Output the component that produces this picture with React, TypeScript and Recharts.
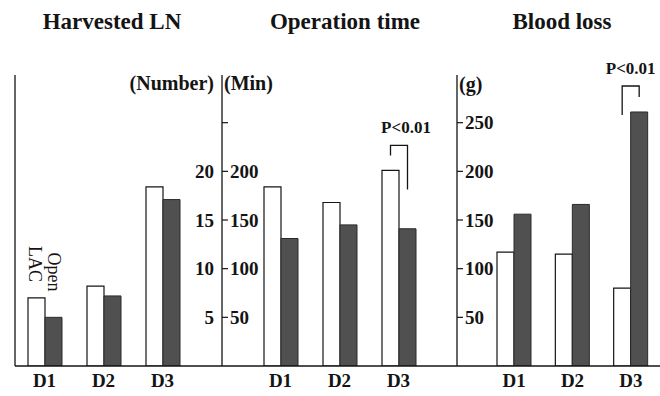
import React from 'react';
import { BarChart, Bar, XAxis, YAxis, LabelList } from 'recharts';

const categories = ['D1', 'D2', 'D3'];
const lnOpen = [7.0, 8.2, 18.4];
const lnLac = [5.0, 7.2, 17.1];
const opOpen = [184, 168, 201];
const opLac = [131, 145, 141];
const blOpen = [117, 115, 80];
const blLac = [156, 166, 261];
const lnTicks = [5, 10, 15, 20];
const minTicks = [50, 100, 150, 200, 250];
const minTickLabels = ['50', '100', '150', '200', ''];
const gTicks = [50, 100, 150, 200, 250];
const titles = ['Harvested LN', 'Operation time', 'Blood loss'];
const units = ['(Number)', '(Min)', '(g)'];
const seriesNames = ['Open', 'LAC'];
const sigText = 'P<0.01';

const FONT = '"Liberation Serif", "Times New Roman", Times, serif';
const INK = '#141414';
const LAC_FILL = '#505050';

const build = (a: number[], b: number[]) =>
  categories.map((c, i) => ({ cat: c, open: a[i], lac: b[i] }));

const lnData = build(lnOpen, lnLac);
const opData = build(opOpen, opLac);
const blData = build(blOpen, blLac);

const xTick = { fontFamily: FONT, fontWeight: 700, fontSize: 19, fill: INK };
const yTick = { fontFamily: FONT, fontWeight: 700, fontSize: 19, fill: INK };

const makeBracket =
  (target: number, attached: 'open' | 'lac', rise: number, leftDrop: number, rightDrop: number, textDx: number) =>
  (props: any) => {
    const vb = props.viewBox || {};
    const x = props.x ?? vb.x;
    const y = props.y ?? vb.y;
    const width = props.width ?? vb.width;
    if (props.index !== target || x == null) return null;
    const openC = attached === 'open' ? x + width / 2 : x - width / 2;
    const lacC = openC + width;
    const top = y - rise;
    return (
      <g>
        <path
          d={`M${openC},${top + leftDrop} V${top} H${lacC} V${top + rightDrop}`}
          stroke={INK}
          strokeWidth={1.3}
          fill="none"
        />
        <text
          x={(openC + lacC) / 2 + textDx}
          y={top - 12}
          textAnchor="middle"
          fontFamily={FONT}
          fontWeight={700}
          fontSize={17}
          fill={INK}
        >
          {sigText}
        </text>
      </g>
    );
  };

const H = 396;

export default function App() {
  return (
    <div style={{ position: 'fixed', left: 0, top: 0, width: 660, height: H, background: '#fff' }}>
      {/* Panel 1: Harvested LN */}
      <div style={{ position: 'absolute', left: 0, top: 0 }}>
        <BarChart
          width={230}
          height={H}
          data={lnData}
          margin={{ top: 75, right: 8, left: 14, bottom: 0 }}
          barGap={0}
          barSize={17}
        >
          <XAxis
            dataKey="cat"
            height={30}
            padding={{ left: 0, right: 30 }}
            tickLine={false}
            axisLine={{ stroke: INK, strokeWidth: 1.3 }}
            tick={xTick}
            interval={0}
          />
          <YAxis
            yAxisId="left"
            orientation="left"
            width={1}
            domain={[0, 29.9]}
            allowDataOverflow
            ticks={lnTicks}
            tick={false}
            tickLine={false}
            axisLine={{ stroke: INK, strokeWidth: 1.3 }}
          />
          <YAxis
            yAxisId="right"
            orientation="right"
            mirror
            width={1}
            domain={[0, 29.9]}
            allowDataOverflow
            ticks={lnTicks}
            interval={0}
            tickLine={false}
            axisLine={false}
            tick={yTick}
          />
          <Bar yAxisId="right" dataKey="open" name={seriesNames[0]} fill="#fff" stroke={INK} strokeWidth={1.2} isAnimationActive={false} />
          <Bar yAxisId="right" dataKey="lac" name={seriesNames[1]} fill={LAC_FILL} stroke="#2a2a2a" strokeWidth={1} isAnimationActive={false} />
        </BarChart>
      </div>

      {/* Panel 2: Operation time */}
      <div style={{ position: 'absolute', left: 200, top: 0 }}>
        <BarChart
          width={280}
          height={H}
          data={opData}
          margin={{ top: 75, right: 23, left: 22, bottom: 0 }}
          barGap={0}
          barSize={17}
        >
          <XAxis
            dataKey="cat"
            height={30}
            padding={{ left: 29, right: 29 }}
            tickLine={false}
            axisLine={{ stroke: INK, strokeWidth: 1.3 }}
            tick={xTick}
            interval={0}
          />
          <YAxis
            orientation="left"
            mirror
            width={1}
            domain={[0, 299]}
            allowDataOverflow
            ticks={minTicks}
            interval={0}
            tickFormatter={(v: number) => minTickLabels[minTicks.indexOf(v)] ?? ''}
            tickLine={{ stroke: INK, strokeWidth: 1.2 }}
            axisLine={{ stroke: INK, strokeWidth: 1.3 }}
            tick={yTick}
          />
          <Bar dataKey="open" name={seriesNames[0]} fill="#fff" stroke={INK} strokeWidth={1.2} isAnimationActive={false}>
            <LabelList content={makeBracket(2, 'open', 25, 10, 44, 7)} />
          </Bar>
          <Bar dataKey="lac" name={seriesNames[1]} fill={LAC_FILL} stroke="#2a2a2a" strokeWidth={1} isAnimationActive={false} />
        </BarChart>
      </div>

      {/* Panel 3: Blood loss */}
      <div style={{ position: 'absolute', left: 430, top: 0 }}>
        <BarChart
          width={230}
          height={H}
          data={blData}
          margin={{ top: 75, right: 0, left: 27, bottom: 0 }}
          barGap={0}
          barSize={17}
        >
          <XAxis
            dataKey="cat"
            height={30}
            padding={{ left: 28, right: 0 }}
            tickLine={false}
            axisLine={{ stroke: INK, strokeWidth: 1.3 }}
            tick={xTick}
            interval={0}
          />
          <YAxis
            orientation="left"
            mirror
            width={1}
            domain={[0, 299]}
            allowDataOverflow
            ticks={gTicks}
            interval={0}
            tickLine={{ stroke: INK, strokeWidth: 1.2 }}
            axisLine={{ stroke: INK, strokeWidth: 1.3 }}
            tick={yTick}
          />
          <Bar dataKey="open" name={seriesNames[0]} fill="#fff" stroke={INK} strokeWidth={1.2} isAnimationActive={false} />
          <Bar dataKey="lac" name={seriesNames[1]} fill={LAC_FILL} stroke="#2a2a2a" strokeWidth={1} isAnimationActive={false}>
            <LabelList content={makeBracket(2, 'lac', 26, 29, 11, 0)} />
          </Bar>
        </BarChart>
      </div>

      {/* Titles, units and series labels */}
      <svg width={660} height={H} style={{ position: 'absolute', left: 0, top: 0, pointerEvents: 'none' }}>
        <g fontFamily={FONT} fontWeight={700} fill={INK}>
          <text x={112} y={29} fontSize={23} textAnchor="middle">{titles[0]}</text>
          <text x={345} y={29} fontSize={23} textAnchor="middle">{titles[1]}</text>
          <text x={562} y={29} fontSize={23} textAnchor="middle">{titles[2]}</text>
          <text x={214} y={90} fontSize={20} textAnchor="end">{units[0]}</text>
          <text x={224} y={90} fontSize={20}>{units[1]}</text>
          <text x={459} y={91} fontSize={20}>{units[2]}</text>
        </g>
        <g fontFamily={FONT} fill={INK} fontSize={18}>
          <text transform="translate(29,264) rotate(90)" textAnchor="middle">{seriesNames[1]}</text>
          <text transform="translate(48,272) rotate(90)" textAnchor="middle">{seriesNames[0]}</text>
        </g>
      </svg>
    </div>
  );
}
